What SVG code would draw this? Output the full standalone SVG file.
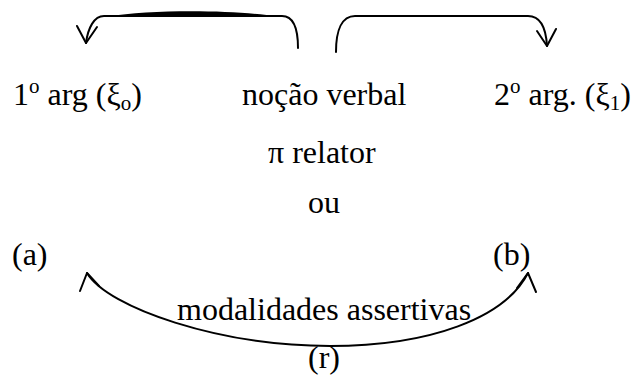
<svg xmlns="http://www.w3.org/2000/svg" width="635" height="378" viewBox="0 0 635 378">
<style>
text{font-family:"Liberation Serif","Times New Roman",serif;font-size:32px;fill:#000}
.ln{fill:none;stroke:#000;stroke-width:2;stroke-linecap:round;stroke-linejoin:round}
.sm{font-size:21px}
</style>
<rect width="635" height="378" fill="#fff"/>
<g id="connectors">
  <g id="arrow-left-top">
    <path class="ln" d="M298,48 C298,28 294,16 282,16 L104,16 C94,16 88,28 86,43"/>
    <path d="M108,16.5 C150,9.5 232,9.5 278,16.5 Z" fill="#000"/>
    <path class="ln" d="M77,26 L86,43 L97,27"/>
  </g>
  <g id="arrow-right-top">
    <path class="ln" d="M336,52 C336,30 342,16 355,16 L528,16 C540,16 546,28 547,46"/>
    <path class="ln" d="M537,31 L547,46 L556,29"/>
  </g>
  <g id="arrow-bottom">
    <path class="ln" d="M87,273 C108,308 220,346 330,346 C430,346 505,318 528,273"/>
    <path class="ln" d="M80,291 L87,273 L99,286"/>
    <path class="ln" d="M517,288 L528,273 L536,292"/>
  </g>
</g>
<g id="arg1"><text x="13" y="105">1<tspan class="sm" dy="-12">o</tspan><tspan dy="12"> arg (ξ</tspan><tspan class="sm" dy="5">o</tspan><tspan dy="-5">)</tspan></text></g>
<g id="nocao"><text x="242" y="105">noção verbal</text></g>
<g id="arg2"><text x="494" y="105">2<tspan class="sm" dy="-12">o</tspan><tspan dy="12"> arg. (ξ</tspan><tspan class="sm" dy="5">1</tspan><tspan dy="-5">)</tspan></text></g>
<g id="relator"><text x="268" y="163">π relator</text></g>
<g id="ou"><text x="308" y="213">ou</text></g>
<g id="a"><text x="12" y="265">(a)</text></g>
<g id="b"><text x="493" y="265">(b)</text></g>
<g id="modalidades"><text x="177" y="320">modalidades assertivas</text></g>
<g id="r"><text x="308" y="368">(r)</text></g>
</svg>
